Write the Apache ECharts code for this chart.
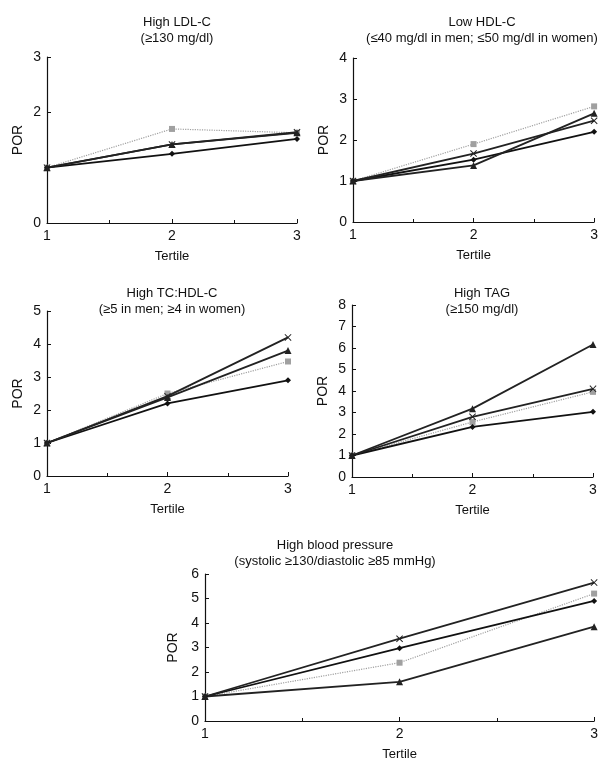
<!DOCTYPE html>
<html>
<head>
<meta charset="utf-8">
<title>POR by tertile</title>
<script src="https://cdn.jsdelivr.net/npm/echarts@6/dist/echarts.min.js"></script>
<style>
  html, body { margin: 0; padding: 0; background: #fff; }
  #main { width: 601px; height: 762px; }
</style>
</head>
<body>
<div id="main"></div>
<script>
// tertile positions on the x axis
var tertiles = [1, 2, 3];

// A = diamond, B = triangle, C = cross, D = grey dotted
var ldlA = [1, 1.25, 1.52], ldlB = [1, 1.42, 1.63], ldlC = [1, 1.42, 1.64], ldlD = [1, 1.70, 1.63];
var hdlA = [1, 1.52, 2.2], hdlB = [1, 1.38, 2.65], hdlC = [1, 1.67, 2.47], hdlD = [1, 1.9, 2.82];
var tcA = [1, 2.2, 2.9], tcB = [1, 2.38, 3.8], tcC = [1, 2.42, 4.2], tcD = [1, 2.5, 3.47];
var tagA = [1, 2.33, 3.03], tagB = [1, 3.18, 6.16], tagC = [1, 2.8, 4.1], tagD = [1, 2.56, 3.96];
var bpA = [1, 2.97, 4.9], bpB = [1, 1.6, 3.85], bpC = [1, 3.36, 5.65], bpD = [1, 2.38, 5.2];

var titles = [
  ['High LDL-C', '(≥130 mg/dl)'],
  ['Low HDL-C', '(≤40 mg/dl in men; ≤50 mg/dl in women)'],
  ['High TC:HDL-C', '(≥5 in men; ≥4 in women)'],
  ['High TAG', '(≥150 mg/dl)'],
  ['High blood pressure', '(systolic ≥130/diastolic ≥85 mmHg)']
];
var yMax = [3, 4, 5, 8, 6];
var panelData = [
  [ldlA, ldlB, ldlC, ldlD],
  [hdlA, hdlB, hdlC, hdlD],
  [tcA, tcB, tcC, tcD],
  [tagA, tagB, tagC, tagD],
  [bpA, bpB, bpC, bpD]
];

var grids = [
  { left: 47, top: 57, width: 250, height: 166 },
  { left: 353, top: 58, width: 247, height: 164 },
  { left: 47, top: 311, width: 241, height: 165 },
  { left: 352, top: 305, width: 241, height: 172 },
  { left: 205, top: 574, width: 390, height: 154 }
];
var titlePos = [
  { x: 172, y: 9 }, { x: 477, y: 9 }, { x: 167, y: 280 }, { x: 477, y: 280 }, { x: 330, y: 532 }
];

var FONT = 'Liberation Sans';
var crossPath = 'path://M0,1L1,0L5,4L9,0L10,1L6,5L10,9L9,10L5,6L1,10L0,9L4,5Z';
var styles = [
  { symbol: 'diamond', size: 6, color: '#111', type: 'solid', width: 1.8 },
  { symbol: 'triangle', size: 7, color: '#222', type: 'solid', width: 1.8 },
  { symbol: crossPath, size: 7, color: '#222', type: 'solid', width: 1.8 },
  { symbol: 'rect', size: 6, color: '#a0a0a0', type: 'dotted', width: 1.2 }
];

function pairs(vals) {
  return tertiles.map(function (t, i) { return [t, vals[i]]; });
}

var option = { animation: false, backgroundColor: '#fff', title: [], grid: grids, xAxis: [], yAxis: [], series: [] };

grids.forEach(function (g, p) {
  option.title.push({
    text: titles[p][0] + '\n' + titles[p][1],
    left: titlePos[p].x, top: titlePos[p].y, textAlign: 'center',
    textStyle: { fontFamily: FONT, fontSize: 13, fontWeight: 'normal', color: '#111', lineHeight: 16 }
  });
  option.xAxis.push({
    gridIndex: p, type: 'value', min: 1, max: 3, interval: 1,
    name: 'Tertile', nameLocation: 'middle', nameGap: 27,
    nameTextStyle: { fontFamily: FONT, fontSize: 13, color: '#111' },
    axisLine: { lineStyle: { color: '#111', width: 1.2 } },
    axisTick: { inside: true, length: 4, lineStyle: { color: '#111' } },
    minorTick: { show: true, splitNumber: 2, length: 3, lineStyle: { color: '#111' } },
    axisLabel: { fontFamily: FONT, fontSize: 14, color: '#111', margin: 6 },
    splitLine: { show: false }
  });
  option.yAxis.push({
    gridIndex: p, type: 'value', min: 0, max: yMax[p], interval: 1,
    name: 'POR', nameLocation: 'middle', nameGap: 22, nameRotate: 90,
    nameTextStyle: { fontFamily: FONT, fontSize: 14, color: '#111' },
    axisLine: { show: true, lineStyle: { color: '#111', width: 1.2 } },
    axisTick: { show: true, inside: true, length: 4, lineStyle: { color: '#111' } },
    axisLabel: {
      fontFamily: FONT, fontSize: 14, color: '#111', margin: 6,
      formatter: function (v) { return (p === 0 && v === 1) ? '' : String(v); }
    },
    splitLine: { show: false }
  });
  panelData[p].forEach(function (vals, s) {
    var st = styles[s];
    option.series.push({
      type: 'line', xAxisIndex: p, yAxisIndex: p, data: pairs(vals),
      symbol: st.symbol, symbolSize: st.size, showSymbol: true, clip: false,
      itemStyle: { color: st.color },
      lineStyle: { color: st.color, width: st.width, type: st.type },
      z: s === 3 ? 1 : 2
    });
  });
});

var chart = echarts.init(document.getElementById('main'));
chart.setOption(option);
</script>
</body>
</html>
